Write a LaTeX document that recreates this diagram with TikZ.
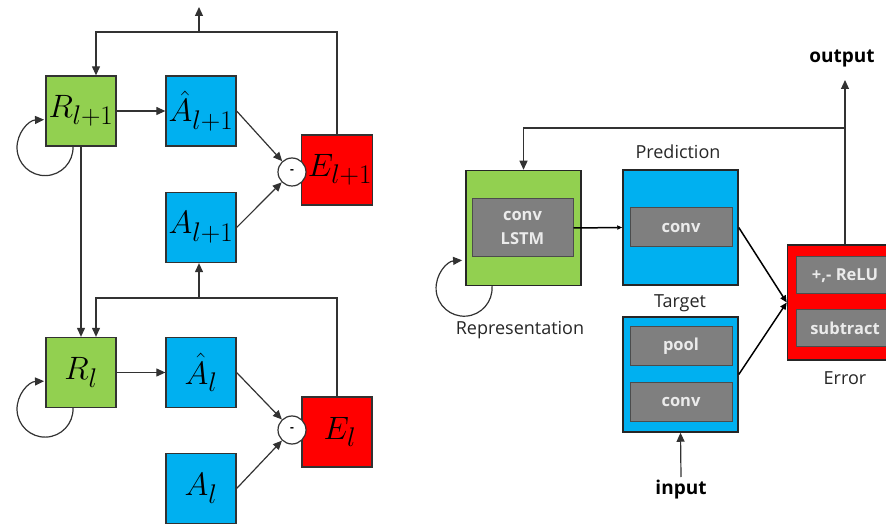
\documentclass[tikz,border=0pt]{standalone}
\usepackage{fontspec}
\setsansfont{Open Sans}
\usetikzlibrary{arrows.meta}
\definecolor{linie}{RGB}{50,50,50}
\definecolor{repgreen}{RGB}{146,208,80}
\definecolor{predblue}{RGB}{0,176,240}
\definecolor{errred}{RGB}{255,0,0}
\definecolor{layergray}{RGB}{127,127,127}
\newcommand{\unitlabel}[1]{\scalebox{1.3}{$#1$}}

\begin{document}
\begin{tikzpicture}[x=1pt, y=-1pt, linie, line width=1.2pt, >={Triangle[length=9pt,width=8pt]},
	unit/.style={draw=linie, line width=1.3pt, minimum width=70pt, minimum height=70pt, inner sep=0pt, text=black, font=\fontsize{24.88}{30}\selectfont},
	repunit/.style={unit, fill=repgreen},
	predunit/.style={unit, fill=predblue},
	errunit/.style={unit, fill=errred},
	minus/.style={circle, draw=linie, fill=white, minimum size=28pt, inner sep=0pt, text=black, font=\sffamily\bfseries\large},
	module/.style={draw=black!85, line width=1.5pt, minimum width=115pt, minimum height=115pt, inner sep=0pt},
	layer/.style={draw=black!70, line width=1pt, fill=layergray, inner sep=0pt, text=white!92!black, align=center, font=\sffamily\bfseries\fontsize{16.5}{24}\selectfont},
	caption/.style={text=black!85, inner sep=0pt, font=\sffamily\fontsize{18}{21}\selectfont},
	iolabel/.style={text=black, inner sep=0pt, font=\sffamily\bfseries\fontsize{19}{22}\selectfont},
	flow/.style={->, black, line width=1.5pt, >={Triangle[length=7pt,width=6pt]}}]

	\useasboundingbox (0,0) rectangle (886,526);
	\clip (0,0) rectangle (886,526);

	% layer l+1
	\node[repunit] (R1) at (81,111) {\unitlabel{R_{l+1}}};
	\node[predunit] (Ah1) at (201,111) {\unitlabel{\hat{A}_{l+1}}};
	\node[predunit] (A1) at (201,227.5) {\unitlabel{A_{l+1}}};
	\node[errunit] (E1) at (337,170) {\hspace*{6pt}\unitlabel{E_{l+1}}};
	\node[minus] (M1) at (292,172) {-};

	% layer l
	\node[repunit] (R0) at (81,372.5) {\unitlabel{R_{l}}};
	\node[predunit] (Ah0) at (201,372.5) {\unitlabel{\hat{A}_{l}}};
	\node[predunit] (A0) at (201,488.5) {\unitlabel{A_{l}}};
	\node[errunit] (E0) at (337,432) {\hspace*{6pt}\unitlabel{E_{l}}};
	\node[minus] (M0) at (292,430) {-};

	\coordinate (top1) at (199,32);
	\coordinate (up1) at (199,7);
	\coordinate (top0) at (199,298);

	\draw[->] (R1) -- (Ah1);
	\draw[->] (Ah1.east) -- (M1);
	\draw[->] (A1.east) -- (M1);
	\draw (E1.north) |- (top1);
	\draw[->] (top1) -- (up1);
	\draw[->] (top1) -| ([xshift=15pt]R1.north);
	\draw[->] ([xshift=-8pt]R1.south) arc[start angle=-2, end angle=268, radius=28];

	\draw[->] (R0) -- (Ah0);
	\draw[->] (Ah0.east) -- (M0);
	\draw[->] (A0.east) -- (M0);
	\draw (E0.north) |- (top0);
	\draw[->] (top0) -- (top0 |- A1.south);
	\draw[->] (top0) -| ([xshift=15pt]R0.north);
	\draw[->] (R1.south) -- (R0.north);
	\draw[->] ([xshift=-8pt]R0.south) arc[start angle=-2, end angle=268, radius=28];

	% module
	\node[module, fill=repgreen] (Rep) at (523.5,228) {};
	\node[layer, minimum width=101pt, minimum height=58pt] (lstm) at (522.5,228) {conv\\LSTM};
	\node[caption] (replbl) at (520,330) {Representation};

	\node[module, fill=predblue] (Pred) at (680.5,227.5) {};
	\node[layer, minimum width=102pt, minimum height=39pt] (pconv) at (681,227.5) {conv};
	\node[caption] (predlbl) at (678,152) {Prediction};

	\node[module, fill=predblue] (Tgt) at (680.5,374.5) {};
	\node[layer, minimum width=102pt, minimum height=39pt] (pool) at (681,346.5) {pool};
	\node[layer, minimum width=102pt, minimum height=38pt] (tconv) at (681,402) {conv};
	\node[caption] (tgtlbl) at (680,303) {Target};

	\node[module, fill=errred] (Err) at (845,302.5) {};
	\node[layer, minimum width=98pt, minimum height=37pt] (relu) at (845,275.5) {+,- ReLU};
	\node[layer, minimum width=98pt, minimum height=37pt] (sub) at (845,328.5) {subtract};
	\node[caption] (errlbl) at (845,378) {Error};

	\node[iolabel] (outlbl) at (842,58) {output};
	\node[iolabel] (inlbl) at (681,490) {input};

	\coordinate (outtip) at (845,80);
	\coordinate (fb) at (845,128);
	\coordinate (inbase) at (681,477);

	\draw[->] (Err.north) -- (outtip);
	\draw[->] (fb) -| (Rep.north);
	\draw[flow, >={Triangle[length=5pt,width=4pt]}] (lstm.east) -- (Pred.west);
	\draw[flow] (Pred.east) -- (Err.west);
	\draw[flow] (Tgt.east) -- (Err.west);
	\draw[->] (inbase) -- (Tgt.south);
	\draw[->] ([xshift=-31.5pt]Rep.south) arc[start angle=-4, end angle=266, radius=28];

\end{tikzpicture}
\end{document}
